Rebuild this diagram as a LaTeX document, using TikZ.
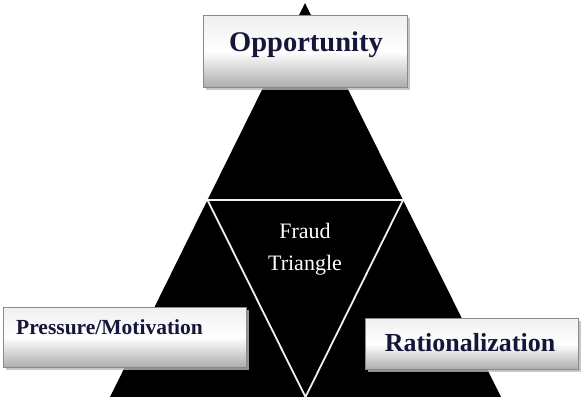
\documentclass[tikz,border=0pt]{standalone}
\usepackage{fontspec}
\setmainfont{Liberation Serif}
\usetikzlibrary{shadows}
\definecolor{txt}{HTML}{16163A}
\definecolor{boxedge}{HTML}{8A8A8A}
\tikzset{
  labelbox/.style={draw=boxedge, line width=1.6pt, top color=gray!12, bottom color=gray!65, middle color=white,
    shading angle=0, inner sep=0pt,
    drop shadow={shadow xshift=2.5pt, shadow yshift=-2.5pt, fill=gray!55, opacity=0.8}},
  boxtext/.style={text=txt, font=\bfseries, inner sep=0pt},
  innerline/.style={draw=white!90!gray, line width=1.8pt, line join=miter},
  centertext/.style={text=white, font=\fontsize{22}{26}\selectfont, inner sep=0pt, anchor=base},
}
\begin{document}
\begin{tikzpicture}[x=1pt,y=-1pt]
\useasboundingbox[fill=white] (0,0) rectangle (582,398);
% big triangle
\coordinate (apex) at (305,3);
\coordinate (bl) at (110,397);
\coordinate (br) at (501,397);
\fill[black] (apex) -- (br) -- (bl) -- cycle;
% inner triangle
\coordinate (ml) at (207.5,200);
\coordinate (mr) at (403,200);
\coordinate (mb) at (305.5,397);
\draw[innerline] (ml) -- (mr) -- (mb) -- cycle;
\node[centertext] (ft1) at (305,239) {Fraud};
\node[centertext] (ft2) at (305,271) {Triangle};
% boxes
\node[labelbox, minimum width=204pt, minimum height=72pt] (opp) at (305.5,51.5) {};
\node[boxtext, font=\bfseries\fontsize{28.5}{30}\selectfont, anchor=base] (opptext) at (306,52) {Opportunity};
\node[labelbox, minimum width=243pt, minimum height=60pt] (pbox) at (125,337.5) {};
\node[boxtext, font=\bfseries\fontsize{21.5}{24}\selectfont, anchor=base west] (ptext) at (16,335) {Pressure/Motivation};
\node[labelbox, minimum width=213pt, minimum height=51pt] (rbox) at (472,344) {};
\node[boxtext, font=\bfseries\fontsize{26}{28}\selectfont, anchor=base] (rtext) at (470,352) {Rationalization};
\end{tikzpicture}
\end{document}
